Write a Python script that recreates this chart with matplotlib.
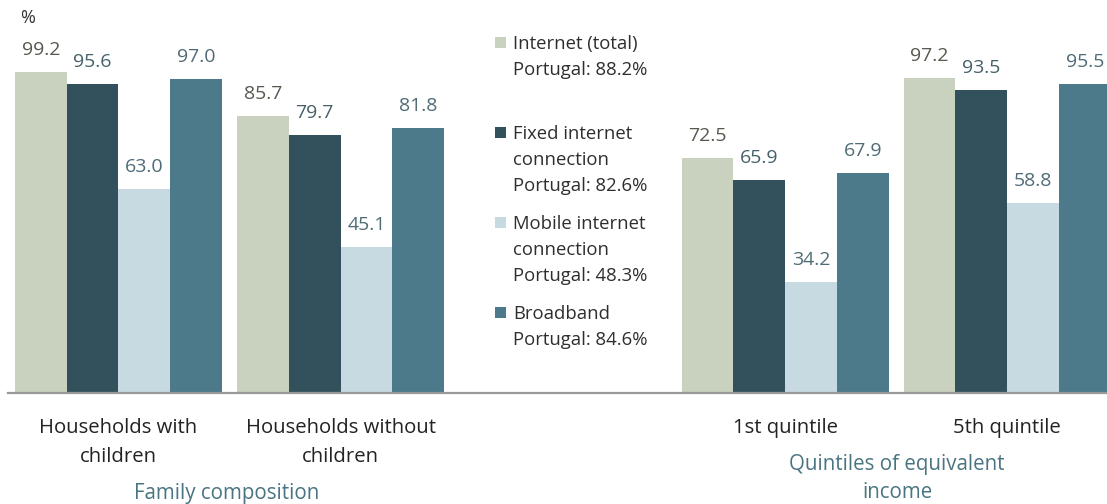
import matplotlib
matplotlib.use("Agg")
import matplotlib.pyplot as plt
from matplotlib.patches import Rectangle

plt.rcParams['font.family'] = ['Open Sans', 'DejaVu Sans']

# ---- data ----
categories = ["Households with\nchildren", "Households without\nchildren", "1st quintile", "5th quintile"]
slots = [0, 1, 3, 4]
series_names = ["Internet (total)", "Fixed internet\nconnection", "Mobile internet\nconnection", "Broadband"]
portugal_values = [88.2, 82.6, 48.3, 84.6]
internet_total = [99.2, 85.7, 72.5, 97.2]
fixed_internet = [95.6, 79.7, 65.9, 93.5]
mobile_internet = [63.0, 45.1, 34.2, 58.8]
broadband = [97.0, 81.8, 67.9, 95.5]
group_titles = ["Family composition", "Quintiles of equivalent\nincome"]
group_centers = [0.5, 3.5]

series = [internet_total, fixed_internet, mobile_internet, broadband]
colors = ["#C9D1BF", "#32515C", "#C7DAE1", "#4C7A8B"]
label_colors = ["#55594E", "#46606A", "#4E6B77", "#4E6B77"]

W, H = 1107, 504
fig = plt.figure(figsize=(W / 100, H / 100), dpi=100)
ax = fig.add_axes([8 / W, (H - 393) / H, (W - 8) / W, 393 / H])
ax.set_xlim(-0.4973, 4.449)
ax.set_ylim(0, 393 / 3.237)

bw = 207 / 4 / 222.2
for i, (vals, c, lc) in enumerate(zip(series, colors, label_colors)):
    xs = [s + (i - 1.5) * bw for s in slots]
    ax.bar(xs, vals, width=bw, color=c, edgecolor='none', zorder=2)
    for x, v in zip(xs, vals):
        ax.annotate(f"{v:.1f}", (x, v), xytext=(0, 17 * 0.72), textcoords='offset points',
                    ha='center', va='baseline', fontsize=14, color=lc)

for s in ['top', 'right', 'left']:
    ax.spines[s].set_visible(False)
ax.spines['bottom'].set_color('#9A9A9A')
ax.spines['bottom'].set_linewidth(1.6)
ax.set_yticks([])
ax.set_xticks([])


def ftext(xp, yp, s, **kw):
    fig.text(xp / W, 1 - yp / H, s, **kw)


def xpix(xd):
    return ax.transData.transform((xd, 0))[0]


# category labels
for s, cat in zip(slots, categories):
    for k, ln in enumerate(cat.split("\n")):
        ftext(xpix(s), 433 + 29 * k, ln, ha='center', va='baseline', fontsize=14.6, color='#222222')

# group titles
ftext(xpix(group_centers[0]) - 3, 499, group_titles[0], ha='center', va='baseline',
      fontsize=14.8, color='#4A7482')
for k, ln in enumerate(group_titles[1].split("\n")):
    ftext(xpix(group_centers[1]) + 1, 470 + 28 * k, ln, ha='center', va='baseline',
          fontsize=14.8, color='#4A7482')

# percent sign
ftext(20, 23, "%", ha='left', va='baseline', fontsize=13, color='#333333')

# legend (manual)
starts = [49, 139, 229, 319]
for name, pv, c, y0 in zip(series_names, portugal_values, colors, starts):
    lines = name.split("\n") + [f"Portugal: {pv}%"]
    fig.patches.append(Rectangle((495 / W, 1 - (y0 - 1) / H), 11 / W, 11 / H,
                                 transform=fig.transFigure, facecolor=c, edgecolor='none'))
    for k, ln in enumerate(lines):
        ftext(513, y0 + 26 * k, ln, ha='left', va='baseline', fontsize=13.3, color='#2E2E2E')

fig.savefig("out.png", dpi=100)
